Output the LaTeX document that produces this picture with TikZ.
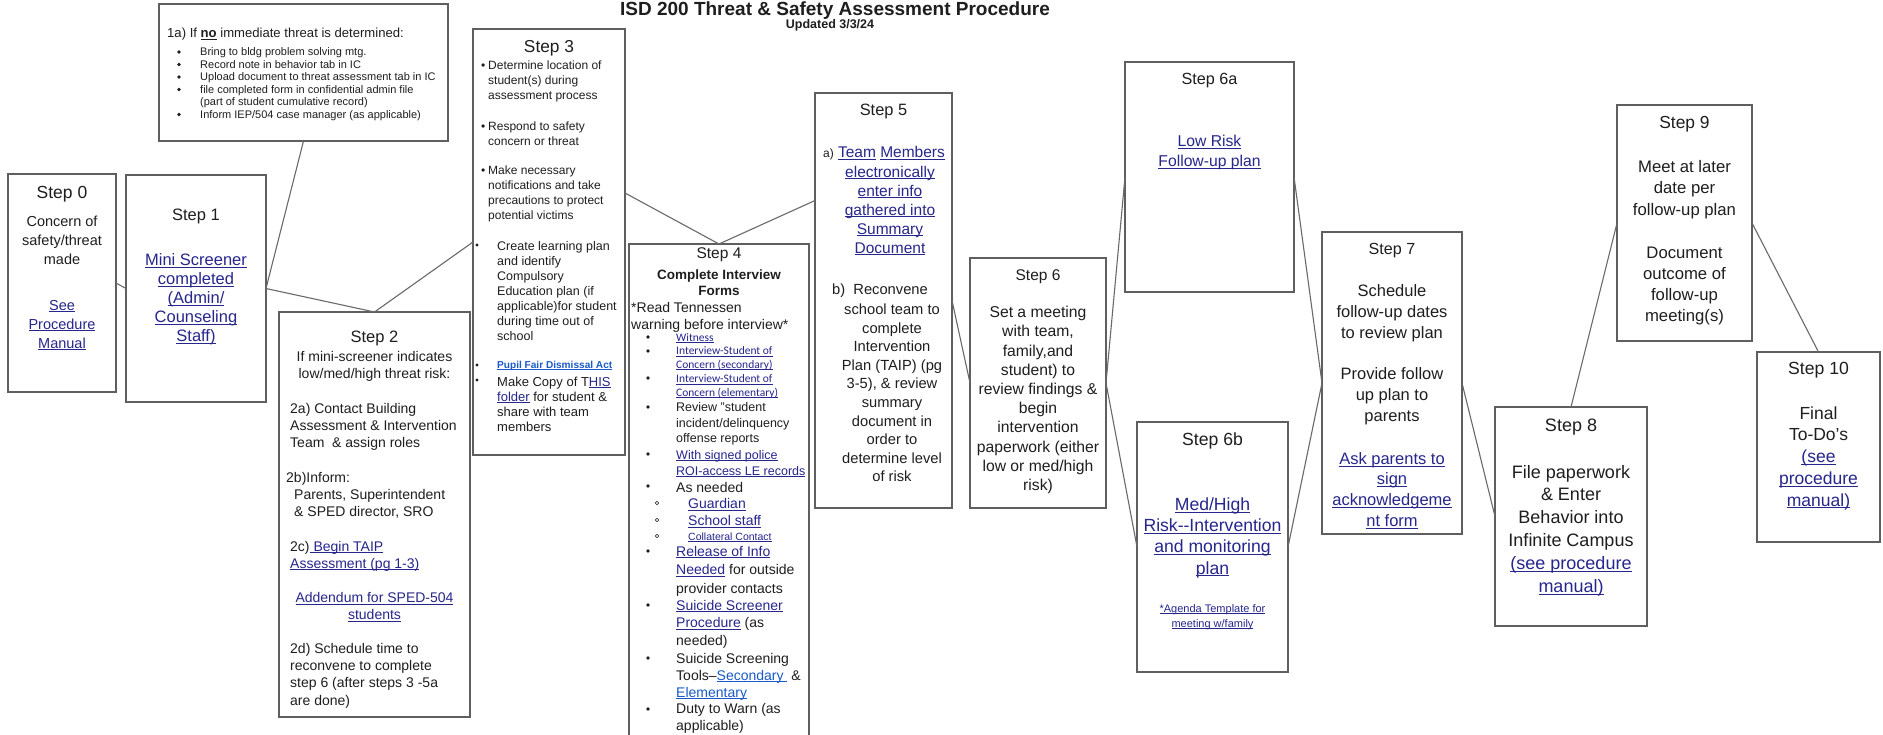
\documentclass[tikz,border=0pt]{standalone}
\usepackage{fontspec}
\setmainfont{Liberation Sans}
\newfontfamily\carl{Carlito}
\definecolor{ink}{RGB}{30,30,30}
\definecolor{bord}{RGB}{95,95,95}
\definecolor{cgray}{RGB}{105,105,105}
\definecolor{lnkc}{RGB}{38,38,140}
\definecolor{lnkd}{RGB}{25,90,200}
\newcommand\fsz[2]{\fontsize{#1}{#2}\selectfont}
\newcommand\ulbox[1]{\setbox0\hbox{#1}\rlap{\rule[-0.14em]{\wd0}{0.06em}}\box0}
\newcommand\lnk[1]{{\color{lnkc}\ulbox{#1}}}
\newcommand\lnkb[1]{{\color{lnkd}\ulbox{#1}}}
\begin{document}
\begin{tikzpicture}[x=1pt,y=-1pt,
  box/.style 2 args={draw=bord,line width=1.2pt,minimum width=#1,minimum height=#2,inner sep=0pt,outer sep=0pt},
  lbl/.style={text=ink,inner sep=0pt,align=center},
  lft/.style={text=ink,inner sep=0pt,align=left,anchor=west},
  conn/.style={draw=cgray,line width=1.1pt}]
\useasboundingbox (0,0) rectangle (1883,734);
\clip (0,0) rectangle (1883,734);
\fill[white] (0,0) rectangle (1883,734);

% title
\node[lbl,anchor=base,font=\bfseries\fsz{19}{20}] (title) at (835,15) {ISD 200 Threat \& Safety Assessment Procedure};
\node[lbl,anchor=base,font=\bfseries\fsz{12.5}{14}] (upd) at (830,28) {Updated 3/3/24};

% boxes
\node[box={289pt}{137pt}] (s1a) at (303.5,72.5) {};
\node[box={108pt}{218pt}] (s0) at (62,283) {};
\node[box={140pt}{227pt}] (s1) at (196,288.5) {};
\node[box={191pt}{405pt}] (s2) at (374.5,514.5) {};
\node[box={152pt}{426pt}] (s3) at (549,242) {};
\node[box={180pt}{516pt}] (s4) at (719,502) {};
\node[box={137pt}{415pt}] (s5) at (883.5,300.5) {};
\node[box={136pt}{250pt}] (s6) at (1038,383) {};
\node[box={169pt}{230pt}] (s6a) at (1209.5,177) {};
\node[box={151pt}{250pt}] (s6b) at (1212.5,547) {};
\node[box={140pt}{302pt}] (s7) at (1392,383) {};
\node[box={152pt}{219pt}] (s8) at (1571,516.5) {};
\node[box={135pt}{236pt}] (s9) at (1684.5,223) {};
\node[box={123pt}{190pt}] (s10) at (1818.5,447) {};

% connectors
\draw[conn] (s0.east) -- (s1.west);
\draw[conn] (s1a.south) -- (s1.east);
\draw[conn] (s1.east) -- (s2.north);
\draw[conn] (s2.north) -- (s3.west);
\draw[conn] ([yshift=49pt]s3.east) -- (s4.north);
\draw[conn] (s4.north) -- ([yshift=100pt]s5.west);
\draw[conn] (s5.east) -- (s6.west);
\draw[conn] (s6.east) -- (s6a.west);
\draw[conn] (s6.east) -- (s6b.west);
\draw[conn] (s6a.east) -- (s7.west);
\draw[conn] (s6b.east) -- (s7.west);
\draw[conn] (s7.east) -- (s8.west);
\draw[conn] (s8.north) -- (s9.west);
\draw[conn] (s9.east) -- (s10.north);

% 1a
\node[lft,font=\fsz{13.1}{15}] (a1) at (167,34.5) {1a) If \textbf{\ulbox{no}} immediate threat is determined:};
\node[lft,font=\fsz{11}{12.5}] (a2) at (200,84) {Bring to bldg problem solving mtg.\\Record note in behavior tab in IC\\Upload document to threat assessment tab in IC\\file completed form in confidential admin file\\(part of student cumulative record)\\Inform IEP/504 case manager (as applicable)};
\foreach \yy in {52,64.5,77,89.5,114.5} \fill[ink] (179,\yy) circle (1.8);

% step 0
\node[lbl,font=\fsz{17.5}{21}] (t0) at (62,194.5) {Step 0};
\node[lbl,font=\fsz{14.5}{19}] (b0) at (62,240.5) {Concern of\\safety/threat\\made};
\node[lbl,font=\fsz{14.5}{19}] (l0) at (62,325) {\lnk{See}\\\lnk{Procedure}\\\lnk{Manual}};

% step 1
\node[lbl,font=\fsz{16.5}{20}] (t1) at (196,216.5) {Step 1};
\node[lbl,font=\fsz{16.5}{19}] (l1) at (196,299.5) {\lnk{Mini Screener}\\\lnk{completed}\\\lnk{(Admin/}\\\lnk{Counseling}\\\lnk{Staff)}};

% step 2
\node[lbl,font=\fsz{16.5}{20}] (t2) at (374.5,338.5) {Step 2};
\node[lbl,font=\fsz{14}{16.7}] (b2) at (374.5,366.5) {If mini-screener indicates\\low/med/high threat risk:};
\node[lft,font=\fsz{14}{17}] (b2a) at (290,426.5) {2a) Contact Building\\Assessment \& Intervention\\Team\ \ \& assign roles};
\node[lft,font=\fsz{14}{17}] (b2b) at (286,495.5) {2b)Inform:\\\hspace*{8pt}Parents, Superintendent\\\hspace*{8pt}\& SPED director, SRO};
\node[lft,font=\fsz{14}{17}] (b2c) at (290,556) {2c)\lnk{ Begin TAIP}\\\lnk{Assessment (pg 1-3)}};
\node[lbl,font=\fsz{14}{17}] (b2e) at (374.5,607) {\lnk{Addendum for SPED-504}\\\lnk{students}};
\node[lft,font=\fsz{14}{17.3}] (b2d) at (290,675.5) {2d) Schedule time to\\reconvene to complete\\step 6 (after steps 3 -5a\\are done)};

% step 3
\node[lbl,font=\fsz{17.3}{20}] (t3) at (549,48.5) {Step 3};
\node[lft,font=\fsz{12}{15}] (c1) at (481,81) {\makebox[7pt][l]{•}Determine location of\\\hspace*{7pt}student(s) during\\\hspace*{7pt}assessment process};
\node[lft,font=\fsz{12}{15}] (c2) at (481,134) {\makebox[7pt][l]{•}Respond to safety\\\hspace*{7pt}concern or threat};
\node[lft,font=\fsz{12}{15}] (c3) at (481,194) {\makebox[7pt][l]{•}Make necessary\\\hspace*{7pt}notifications and take\\\hspace*{7pt}precautions to protect\\\hspace*{7pt}potential victims};
\node[lft,font=\fsz{12.5}{15}] (c4) at (497,291.5) {Create learning plan\\and identify\\Compulsory\\Education plan (if\\applicable)for student\\during time out of\\school};
\node[lft,font=\bfseries\fsz{10.1}{12}] (c5) at (497,366) {\lnkb{Pupil Fair Dismissal Act}};
\node[lft,font=\fsz{13}{15}] (c6) at (497,404) {Make Copy of T\lnk{HIS}\\\lnk{folder} for student \&\\share with team\\members};
\foreach \yy in {245,365,380} \fill[ink] (477,\yy) circle (1.6);

% step 4
\node[lbl,font=\fsz{15.5}{18}] (t4) at (719,254.5) {Step 4};
\node[lbl,font=\bfseries\fsz{13.5}{16.5}] (b4) at (719,282.5) {Complete Interview\\Forms};
\node[lft,font=\fsz{14}{17}] (r4) at (631,317) {*Read Tennessen\\warning before interview*};
\node[lft,font=\carl\fsz{11.5}{13.5}] (d1) at (676,338) {\lnk{Witness}};
\node[lft,font=\carl\fsz{11.5}{13.8}] (d2) at (676,358.5) {\lnk{Interview-Student of}\\\lnk{Concern (secondary)}};
\node[lft,font=\carl\fsz{11.5}{13.8}] (d3) at (676,386.5) {\lnk{Interview-Student of}\\\lnk{Concern (elementary)}};
\node[lft,font=\fsz{12.5}{15.5}] (d4) at (676,424) {Review "student\\incident/delinquency\\offense reports};
\node[lft,font=\fsz{12.5}{16}] (d5) at (676,463.5) {\lnk{With signed police}\\\lnk{ROI-access LE records}};
\node[lft,font=\fsz{14}{17}] (d6) at (676,487.5) {As needed};
\node[lft,font=\fsz{14}{17}] (d7) at (688,504.5) {\lnk{Guardian}};
\node[lft,font=\fsz{14}{17}] (d8) at (688,521.5) {\lnk{School staff}};
\node[lft,font=\fsz{10.5}{13}] (d9) at (688,537) {\lnk{Collateral Contact}};
\node[lft,font=\fsz{14}{18.5}] (d10) at (676,571) {\lnk{Release of Info}\\\lnk{Needed} for outside\\provider contacts};
\node[lft,font=\fsz{14}{17.5}] (d11) at (676,624) {\lnk{Suicide Screener}\\\lnk{Procedure} (as\\needed)};
\node[lft,font=\fsz{14}{17}] (d12) at (676,676.5) {Suicide Screening\\Tools–\lnkb{Secondary }\ \&\\\lnkb{Elementary}};
\node[lft,font=\fsz{14}{16.5}] (d13) at (676,718.5) {Duty to Warn (as\\applicable)};
\foreach \yy in {337,351,378,407,454,486,551,605,658,709} \fill[ink] (648,\yy) circle (1.9);
\foreach \yy in {503,520,536} \draw[ink,line width=0.6pt] (657,\yy) circle (1.8);

% step 5
\node[lbl,font=\fsz{16.4}{20}] (t5) at (883.5,111.5) {Step 5};
\node[lbl,font=\fsz{15.5}{19}] (e1) at (884,153.5) {{\fsz{12}{15}a)} \lnk{Team} \lnk{Members}};
\node[lbl,font=\fsz{15.5}{19}] (e2) at (890,210.5) {\lnk{electronically}\\\lnk{enter info}\\\lnk{gathered into}\\\lnk{Summary}\\\lnk{Document}};
\node[lbl,font=\fsz{14.7}{18.55}] (e3) at (880,290.5) {b)\ \ Reconvene};
\node[lbl,font=\fsz{14.7}{18.55}] (e4) at (892,393) {school team to\\complete\\Intervention\\Plan (TAIP) (pg\\3-5), \& review\\summary\\document in\\order to\\determine level\\of risk};

% step 6
\node[lbl,font=\fsz{15.5}{19}] (t6) at (1038,276.5) {Step 6};
\node[lbl,font=\fsz{15.7}{19.2}] (b6) at (1038,400) {Set a meeting\\with team,\\family,and\\student) to\\review findings \&\\begin\\intervention\\paperwork (either\\low or med/high\\risk)};

% step 6a
\node[lbl,font=\fsz{16.2}{20}] (t6a) at (1209.5,80.5) {Step 6a};
\node[lbl,font=\fsz{15.7}{20}] (b6a) at (1209.5,152.5) {\lnk{Low Risk}\\\lnk{Follow-up plan}};

% step 6b
\node[lbl,font=\fsz{17.6}{21}] (t6b) at (1212.5,440.5) {Step 6b};
\node[lbl,font=\fsz{17.6}{21.3}] (b6b) at (1212.5,537.5) {\lnk{Med/High}\\\lnk{Risk-{}-Intervention}\\\lnk{and monitoring}\\\lnk{plan}};
\node[lbl,font=\fsz{11}{15}] (c6b) at (1212.5,617) {\lnk{*Agenda Template for}\\\lnk{meeting w/family}};

% step 7
\node[lbl,font=\fsz{16.1}{20}] (t7) at (1392,250.5) {Step 7};
\node[lbl,font=\fsz{16.5}{21}] (b7) at (1392,313.5) {Schedule\\follow-up dates\\to review plan};
\node[lbl,font=\fsz{16.5}{21}] (c7) at (1392,396.5) {Provide follow\\up plan to\\parents};
\node[lbl,font=\fsz{16.5}{20.7}] (l7) at (1392,490.5) {\lnk{Ask parents to}\\\lnk{sign}\\\lnk{acknowledgeme}\\\lnk{nt form}};

% step 8
\node[lbl,font=\fsz{18}{21}] (t8) at (1571,427.5) {Step 8};
\node[lbl,font=\fsz{18}{22.8}] (b8) at (1571,530.5) {File paperwork\\\& Enter\\Behavior into\\Infinite Campus\\\lnk{(see procedure}\\\lnk{manual)}};

% step 9
\node[lbl,font=\fsz{17.4}{21}] (t9) at (1684.5,124.5) {Step 9};
\node[lbl,font=\fsz{16.7}{21.3}] (b9) at (1684.5,189.5) {Meet at later\\date per\\follow-up plan};
\node[lbl,font=\fsz{16.7}{21}] (c9) at (1684.5,286) {Document\\outcome of\\follow-up\\meeting(s)};

% step 10
\node[lbl,font=\fsz{17.6}{21}] (t10) at (1818.5,370.5) {Step 10};
\node[lbl,font=\fsz{17.5}{21.75}] (b10) at (1818.5,458) {Final\\To-Do’s\\\lnk{(see}\\\lnk{procedure}\\\lnk{manual)}};
\end{tikzpicture}
\end{document}
